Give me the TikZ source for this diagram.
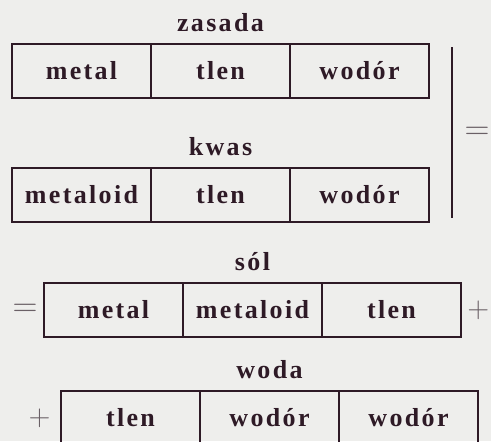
\documentclass[tikz,border=0pt]{standalone}
\usepackage{fontspec}
\usetikzlibrary{positioning}
\newfontfamily\cellfam[LetterSpace=9]{Liberation Serif}
\newcommand{\cellfont}{\cellfam\bfseries\fontsize{13}{15}\selectfont}
\definecolor{ink}{HTML}{2E1A26}
\definecolor{paper}{HTML}{EEEEEC}
\definecolor{signc}{HTML}{6A6066}
\tikzset{
  cell/.style={draw=ink,line width=1pt,minimum width=69.5pt,minimum height=27pt,
    inner sep=0pt,outer sep=0pt,font=\cellfont,text=ink},
  lbl/.style={font=\cellfont,text=ink,inner sep=0pt},
  eqs/.style={font=\fontsize{18}{18}\selectfont,text=signc,inner sep=0pt},
  pls/.style={font=\fontsize{14}{14}\selectfont,text=signc,inner sep=0pt},
}

\begin{document}
\begin{tikzpicture}[x=0.5pt,y=-0.5pt]
  \clip (0,0) rectangle (491,441);
  \fill[paper] (0,0) rectangle (491,441);
  % ---------- zasada ----------
  \node[cell] (z1) at (81.5,71) {metal};
  \node[cell,right=0pt of z1] (z2) {tlen};
  \node[cell,right=0pt of z2] (z3) {wodór};
  \node[lbl,above=6pt of z2] (zl) {zasada};
  % ---------- kwas ----------
  \node[cell] (k1) at (81.5,195) {metaloid};
  \node[cell,right=0pt of k1] (k2) {tlen};
  \node[cell,right=0pt of k2] (k3) {wodór};
  \node[lbl,above=6pt of k2] (kl) {kwas};
  % bracket and sign
  \coordinate (bt) at (452,47);
  \coordinate (bb) at (452,218);
  \draw[ink,line width=1pt] (bt) -- (bb);
  \node[eqs] (eq1) at (477,133) {$=$};
  % ---------- sol ----------
  \node[cell] (s1) at (113.5,310) {metal};
  \node[cell,right=0pt of s1] (s2) {metaloid};
  \node[cell,right=0pt of s2] (s3) {tlen};
  \node[lbl,above=6pt of s2] (sl) {sól};
  \node[eqs,left=3pt of s1] (eq2) {$=$};
  \node[pls,right=3pt of s3] (pl1) {$+$};
  % ---------- woda ----------
  \node[cell] (w1) at (130.5,418) {tlen};
  \node[cell,right=0pt of w1] (w2) {wodór};
  \node[cell,right=0pt of w2] (w3) {wodór};
  \node[lbl,above=6pt of w2] (wl) {woda};
  \node[pls,left=5pt of w1] (pl2) {$+$};
\end{tikzpicture}
\end{document}
